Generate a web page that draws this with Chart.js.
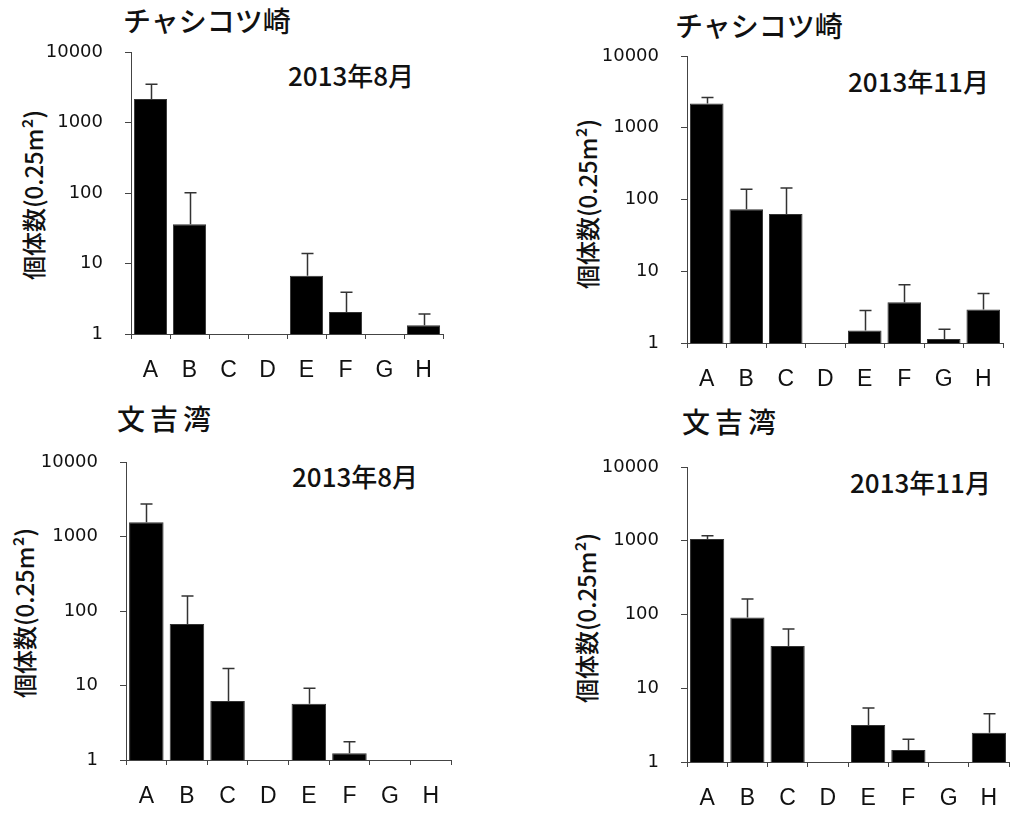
<!DOCTYPE html>
<html lang="ja">
<head>
<meta charset="UTF-8">
<title>個体数</title>
<script src="https://cdn.jsdelivr.net/npm/chart.js"></script>
<style>
    body { margin: 0; background: #fff; width: 1010px; height: 814px; position: relative; overflow: hidden; }
    canvas { position: absolute; }
    .site { position: absolute; font-family: "Noto Sans CJK JP", sans-serif; font-weight: 500; font-size: 28px; line-height: 28px; color: #111; white-space: nowrap; }
    .date { position: absolute; font-family: "Noto Sans CJK JP", sans-serif; font-weight: 500; font-size: 26px; line-height: 26px; color: #111; white-space: nowrap; }
    .ylab { position: absolute; font-family: "Noto Sans CJK JP", sans-serif; font-weight: 500; font-size: 24px; line-height: 24px; color: #111; white-space: nowrap;
            transform: translate(-50%, -50%) rotate(-90deg); }
</style>
</head>
<body>
<div class="site" style="left:123px; top:6px;">チャシコツ崎</div>
<div class="site" style="left:675px; top:11px;">チャシコツ崎</div>
<div class="site" style="left:117px; top:404px; letter-spacing:5px;">文吉湾</div>
<div class="site" style="left:682px; top:407px; letter-spacing:5px;">文吉湾</div>

<div class="date" style="left:288px; top:62px;">2013年8月</div>
<div class="date" style="left:848px; top:68px;">2013年11月</div>
<div class="date" style="left:292px; top:463px;">2013年8月</div>
<div class="date" style="left:850px; top:469px;">2013年11月</div>

<div class="ylab" style="left:33px; top:195px;">個体数(0.25m²)</div>
<div class="ylab" style="left:587px; top:204px;">個体数(0.25m²)</div>
<div class="ylab" style="left:24px; top:613px;">個体数(0.25m²)</div>
<div class="ylab" style="left:586px; top:618px;">個体数(0.25m²)</div>

<canvas id="c1" width="505" height="407" style="left:0; top:0;"></canvas>
<canvas id="c2" width="505" height="407" style="left:505px; top:0;"></canvas>
<canvas id="c3" width="505" height="407" style="left:0; top:407px;"></canvas>
<canvas id="c4" width="505" height="407" style="left:505px; top:407px;"></canvas>

<script>
    // sites A-H
    const categories = ['A', 'B', 'C', 'D', 'E', 'F', 'G', 'H'];
    const yTicks = [1, 10, 100, 1000, 10000];

    // mean and mean+SD, 0 = none found
    const chashiAugMean  = [2150, 36, 0, 0, 6.7, 2.05, 0, 1.33];
    const chashiAugUpper = [3500, 101, 0, 0, 13.9, 3.9, 0, 1.92];
    const chashiNovMean  = [2180, 73, 63, 0, 1.49, 3.7, 1.14, 2.92];
    const chashiNovUpper = [2640, 139, 145, 0, 2.83, 6.5, 1.55, 4.9];
    const bunkiAugMean   = [1550, 67, 6.2, 0, 5.7, 1.23, 0, 0];
    const bunkiAugUpper  = [2730, 159, 16.9, 0, 9.2, 1.76, 0, 0];
    const bunkiNovMean   = [1057, 91, 37.4, 0, 3.17, 1.45, 0, 2.5];
    const bunkiNovUpper  = [1171, 162, 63.6, 0, 5.4, 2.03, 0, 4.5];

    const errorBars = {
        id: 'errorBars',
        afterDatasetsDraw(chart, args, opts) {
            const ctx = chart.ctx;
            const y = chart.scales.y;
            const meta = chart.getDatasetMeta(0);
            const upper = opts.upper;
            ctx.save();
            ctx.strokeStyle = '#333';
            ctx.lineWidth = 1.5;
            meta.data.forEach((bar, i) => {
                const hi = upper[i];
                const v = chart.data.datasets[0].data[i];
                if (!hi || v == null) return;
                const x = Math.round(bar.x) + 0.5;
                const yTop = y.getPixelForValue(hi);
                const yBar = y.getPixelForValue(v);
                ctx.beginPath();
                ctx.moveTo(x, yBar);
                ctx.lineTo(x, yTop);
                ctx.moveTo(x - 6, yTop);
                ctx.lineTo(x + 6, yTop);
                ctx.stroke();
            });
            ctx.restore();
        }
    };

    function makeChart(id, mean, upper, box, area) {
        const yw = 95;
        const xh = box.y + 407 - area.bottom;
        return new Chart(document.getElementById(id), {
            type: 'bar',
            data: {
                labels: categories,
                datasets: [{
                    data: mean.map(v => v > 0 ? v : null),
                    backgroundColor: '#000',
                    borderColor: '#333',
                    borderWidth: 1,
                    barPercentage: 0.85,
                    categoryPercentage: 1
                }]
            },
            options: {
                responsive: false,
                animation: false,
                layout: {
                    padding: {
                        left: area.left - box.x - yw,
                        top: area.top - box.y,
                        right: box.x + 505 - area.right,
                        bottom: 0
                    }
                },
                scales: {
                    x: {
                        grid: { display: true, drawOnChartArea: false, drawTicks: true, tickLength: 5, color: '#444' },
                        border: { display: true, color: '#444', width: 1 },
                        ticks: { color: '#111', padding: 18, font: { family: 'Liberation Sans', size: 23 } },
                        afterFit(s) { s.height = xh; s.paddingLeft = 0; s.paddingRight = 0; }
                    },
                    y: {
                        type: 'logarithmic',
                        min: 1,
                        max: 10000,
                        grid: { display: true, drawOnChartArea: false, drawTicks: true, tickLength: 6, color: '#444' },
                        border: { display: true, color: '#444', width: 1 },
                        afterBuildTicks(s) { s.ticks = yTicks.map(v => ({ value: v })); },
                        ticks: {
                            color: '#111',
                            padding: 22,
                            font: { family: 'DejaVu Sans', size: 18 },
                            callback: v => String(v)
                        },
                        afterFit(s) { s.width = yw; s.paddingTop = 0; s.paddingBottom = 0; }
                    }
                },
                plugins: {
                    legend: { display: false },
                    tooltip: { enabled: false },
                    errorBars: { upper: upper }
                }
            },
            plugins: [errorBars]
        });
    }

    makeChart('c1', chashiAugMean, chashiAugUpper, { x: 0, y: 0 }, { left: 131, top: 52, right: 443, bottom: 334 });
    makeChart('c2', chashiNovMean, chashiNovUpper, { x: 505, y: 0 }, { left: 687, top: 56, right: 1003, bottom: 343 });
    makeChart('c3', bunkiAugMean, bunkiAugUpper, { x: 0, y: 407 }, { left: 126, top: 462, right: 451, bottom: 760 });
    makeChart('c4', bunkiNovMean, bunkiNovUpper, { x: 505, y: 407 }, { left: 687, top: 467, right: 1009, bottom: 762 });
</script>
</body>
</html>
